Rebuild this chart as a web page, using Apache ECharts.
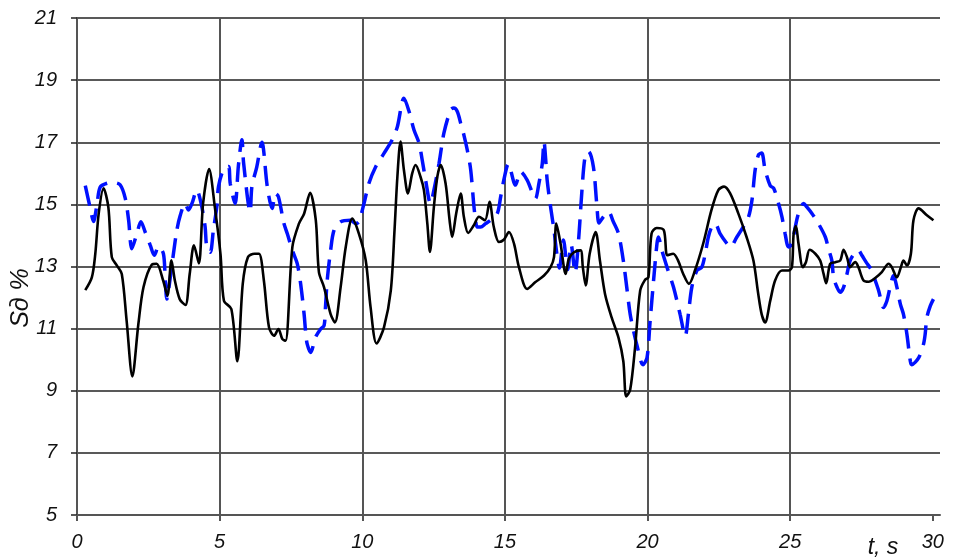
<!DOCTYPE html>
<html>
<head>
<meta charset="utf-8">
<title>Sд %</title>
<script src="https://cdn.jsdelivr.net/npm/echarts@6/dist/echarts.min.js"></script>
<style>
  html, body { margin: 0; padding: 0; background: #fff; }
  #chart { width: 953px; height: 558px; }
</style>
</head>
<body>
<div id="chart"></div>
<script>
// Time axis ticks (s) and slip axis ticks (%)
const xTicks = [0, 5, 10, 15, 20, 25, 30];
const yTicks = [5, 7, 9, 11, 13, 15, 17, 19, 21];

// Solid curve: [t, value] samples
const solidT = [0.29,0.52,0.64,0.76,0.93,1.10,1.22,1.40,1.57,1.74,1.94,2.15,2.33,2.62,2.79,3.02,3.17,3.31,3.43,3.60,3.80,3.95,4.10,4.27,4.42,4.63,4.83,5.03,5.15,5.41,5.62,5.81,5.99,6.22,6.38,6.55,6.73,6.91,7.06,7.20,7.31,7.55,7.78,7.96,8.17,8.37,8.48,8.66,8.89,9.04,9.24,9.42,9.65,9.88,10.12,10.29,10.50,10.76,11.00,11.13,11.23,11.34,11.46,11.60,11.75,11.87,12.04,12.16,12.28,12.37,12.51,12.63,12.75,12.92,13.06,13.15,13.29,13.45,13.56,13.71,13.91,14.09,14.30,14.46,14.61,14.79,14.96,15.14,15.32,15.49,15.78,16.07,16.37,16.60,16.72,16.80,16.95,17.13,17.24,17.42,17.65,17.73,17.83,17.97,18.18,18.33,18.51,18.74,18.98,19.15,19.25,19.39,19.56,19.74,19.91,20.03,20.14,20.32,20.57,20.69,20.90,21.07,21.25,21.45,21.66,21.95,22.24,22.48,22.68,22.89,23.18,23.47,23.71,23.88,24.00,24.12,24.30,24.47,24.71,24.94,25.06,25.12,25.20,25.29,25.44,25.55,25.68,25.88,26.05,26.17,26.26,26.40,26.58,26.75,26.87,26.99,27.10,27.28,27.39,27.57,27.75,27.98,28.21,28.45,28.56,28.74,28.88,28.97,29.09,29.23,29.32,29.50,29.79,30.02];
const solidV = [12.24,12.65,13.4,14.7,15.52,14.9,13.3,13.03,12.76,11.25,9.46,11.14,12.33,13.06,13.09,12.55,12.06,13.2,12.55,11.95,11.76,12.76,13.68,13.1,15.03,16.14,14.92,13.4,11.9,11.63,9.95,12.44,13.3,13.41,13.41,12.55,11.04,10.77,10.99,10.66,10.61,13.63,14.38,14.7,15.37,14.49,12.82,12.33,11.47,11.2,12.33,13.63,14.54,14.06,13.2,11.69,10.52,11.04,12.23,14.17,15.89,17.02,16.1,15.35,16.0,16.27,15.89,15.46,14.38,13.47,14.92,15.89,16.27,15.67,14.49,13.95,14.7,15.35,14.6,14.08,14.33,14.6,14.49,15.08,14.27,13.79,13.86,14.11,13.73,12.98,12.28,12.5,12.71,12.98,13.3,14.38,13.73,12.76,13.25,13.46,13.52,12.98,12.39,13.41,14.11,13.19,12.11,11.36,10.71,9.95,8.82,9.03,10.38,12.22,12.57,12.65,14.06,14.24,14.17,13.36,13.41,13.19,12.76,12.44,12.87,13.74,14.82,15.46,15.57,15.36,14.71,13.95,13.19,12.11,11.46,11.2,11.9,12.55,12.87,12.87,12.98,14.06,14.3,13.74,12.98,13.14,13.54,13.41,13.19,12.76,12.46,13.09,13.14,13.19,13.54,13.3,12.98,13.14,12.98,12.55,12.51,12.63,12.82,13.09,12.98,12.65,12.98,13.19,13.03,13.41,14.49,14.87,14.65,14.49];

// Dashed curve: [t, value] samples
const dashT = [0.29,0.46,0.58,0.70,0.81,1.05,1.28,1.51,1.69,1.81,1.92,2.10,2.24,2.39,2.57,2.71,2.86,3.03,3.09,3.15,3.27,3.38,3.50,3.62,3.79,3.91,4.03,4.20,4.35,4.49,4.55,4.67,4.78,4.90,4.96,5.13,5.31,5.37,5.54,5.66,5.78,5.84,6.07,6.13,6.30,6.48,6.67,6.84,6.96,7.06,7.25,7.37,7.55,7.72,7.84,7.96,8.02,8.07,8.19,8.36,8.54,8.66,8.71,8.77,8.89,9.01,9.24,9.59,9.77,9.88,10.06,10.23,10.47,10.76,11.05,11.23,11.46,11.64,11.81,11.99,12.10,12.22,12.39,12.51,12.69,12.86,13.10,13.21,13.33,13.45,13.56,13.68,13.80,13.91,13.97,14.03,14.15,14.32,14.50,14.73,14.85,14.96,15.12,15.37,15.55,15.78,16.07,16.19,16.31,16.37,16.43,16.48,16.60,16.72,16.82,16.91,17.05,17.20,17.32,17.46,17.58,17.70,17.81,17.93,18.10,18.22,18.30,18.45,18.63,18.80,18.98,19.15,19.27,19.39,19.51,19.62,19.84,19.98,20.09,20.21,20.33,20.38,20.50,20.68,20.91,21.14,21.32,21.43,21.55,21.73,21.90,22.02,22.13,22.25,22.37,22.54,22.78,22.90,23.13,23.36,23.54,23.66,23.77,23.89,24.00,24.12,24.30,24.42,24.59,24.71,24.82,24.94,25.06,25.18,25.29,25.47,25.58,25.76,25.99,26.23,26.34,26.46,26.52,26.64,26.75,26.87,26.99,27.10,27.28,27.39,27.51,27.66,27.86,27.98,28.10,28.27,28.39,28.50,28.62,28.74,28.86,28.97,29.09,29.21,29.26,29.50,29.67,29.73,29.79,29.91,30.02];
const dashV = [15.6,14.9,14.45,15.0,15.55,15.68,15.7,15.63,15.2,14.49,13.57,14.06,14.44,14.11,13.68,13.36,13.65,13.41,12.65,11.95,12.65,13.41,14.17,14.65,15.03,14.82,15.03,15.46,15.03,14.28,13.62,13.46,14.17,14.92,15.57,16.11,16.22,15.68,15.03,16.27,17.08,16.33,14.76,15.57,16.2,17.0,15.57,14.87,15.35,15.25,14.4,14.06,13.52,13.09,12.44,11.47,10.83,10.5,10.23,10.72,10.99,11.1,11.69,12.55,13.52,14.17,14.44,14.49,14.38,14.44,15.03,15.67,16.21,16.64,17.08,17.5,18.42,17.99,17.4,16.97,16.43,15.78,15.03,15.46,16.32,17.29,18.05,18.1,17.99,17.61,17.24,16.75,16.11,14.97,14.49,14.27,14.27,14.38,14.49,14.7,15.24,15.78,16.3,15.62,16.05,15.78,15.19,15.67,16.32,17.02,16.43,15.78,14.92,14.17,13.41,12.95,13.85,12.9,13.7,12.8,13.84,15.46,16.54,16.7,16.21,15.0,14.4,14.6,14.76,14.44,14.06,13.19,12.33,11.46,10.92,10.49,9.84,10.06,11.25,12.55,13.74,13.95,13.52,12.98,12.33,11.46,10.76,11.46,12.33,12.87,12.98,13.41,13.95,14.28,14.38,14.06,13.74,13.63,13.95,14.28,14.6,15.14,16.11,16.6,16.65,16.11,15.6,15.52,15.03,14.6,14.06,13.63,13.74,14.28,14.71,15.03,14.92,14.71,14.38,13.95,13.57,13.19,12.65,12.33,12.17,12.33,12.76,13.19,13.46,13.52,13.36,13.14,12.87,12.55,12.22,11.68,11.9,12.33,12.71,12.33,11.79,11.46,10.82,9.95,9.84,10.06,10.49,10.82,11.36,11.73,11.95];

const labelFont = {
  fontFamily: '"Liberation Sans Narrow", "Liberation Sans", sans-serif',
  fontStyle: 'italic',
  fontSize: 20,
  color: '#111'
};

const pairs = (ts, vs) => ts.map((t, i) => [t, vs[i]]);

const chart = echarts.init(document.getElementById('chart'), null, { renderer: 'canvas' });

chart.setOption({
  animation: false,
  backgroundColor: '#ffffff',
  grid: { left: 77, right: 13, top: 18, bottom: 43, containLabel: false },
  xAxis: {
    type: 'value',
    min: 0,
    max: 30.25,
    interval: 5,
    axisLine: { show: true, onZero: false, lineStyle: { color: '#555', width: 2 } },
    axisTick: { show: true, inside: false, length: 6, customValues: xTicks, lineStyle: { color: '#555', width: 2 } },
    axisLabel: { margin: 17, customValues: xTicks, ...labelFont },
    splitLine: { show: true, showMaxLine: false, lineStyle: { color: '#555', width: 2 } }
  },
  yAxis: {
    type: 'value',
    min: 5,
    max: 21,
    interval: 2,
    axisLine: { show: true, lineStyle: { color: '#555', width: 2 } },
    axisTick: { show: true, inside: false, length: 6, lineStyle: { color: '#222', width: 1.5 } },
    axisLabel: { margin: 20, ...labelFont },
    splitLine: { show: true, lineStyle: { color: '#222', width: 1.5 } }
  },
  series: [
    {
      type: 'line',
      data: pairs(dashT, dashV),
      showSymbol: false,
      smooth: 0.3,
      lineStyle: { color: '#0010ff', width: 3.5, type: [20, 10] },
      z: 2
    },
    {
      type: 'line',
      data: pairs(solidT, solidV),
      showSymbol: false,
      smooth: 0.3,
      lineStyle: { color: '#000', width: 2.6 },
      z: 3
    }
  ],
  graphic: [
    {
      type: 'text',
      x: 21,
      y: 298,
      rotation: Math.PI / 2,
      style: {
        text: 'Sд %',
        font: 'italic 25px "Liberation Sans Narrow", "Liberation Sans", sans-serif',
        fill: '#111',
        align: 'center',
        verticalAlign: 'middle'
      }
    },
    {
      type: 'text',
      x: 883,
      y: 548,
      style: {
        text: 't, s',
        font: 'italic 23px "Liberation Sans Narrow", "Liberation Sans", sans-serif',
        fill: '#111',
        align: 'center',
        verticalAlign: 'middle'
      }
    }
  ]
});
</script>
</body>
</html>
